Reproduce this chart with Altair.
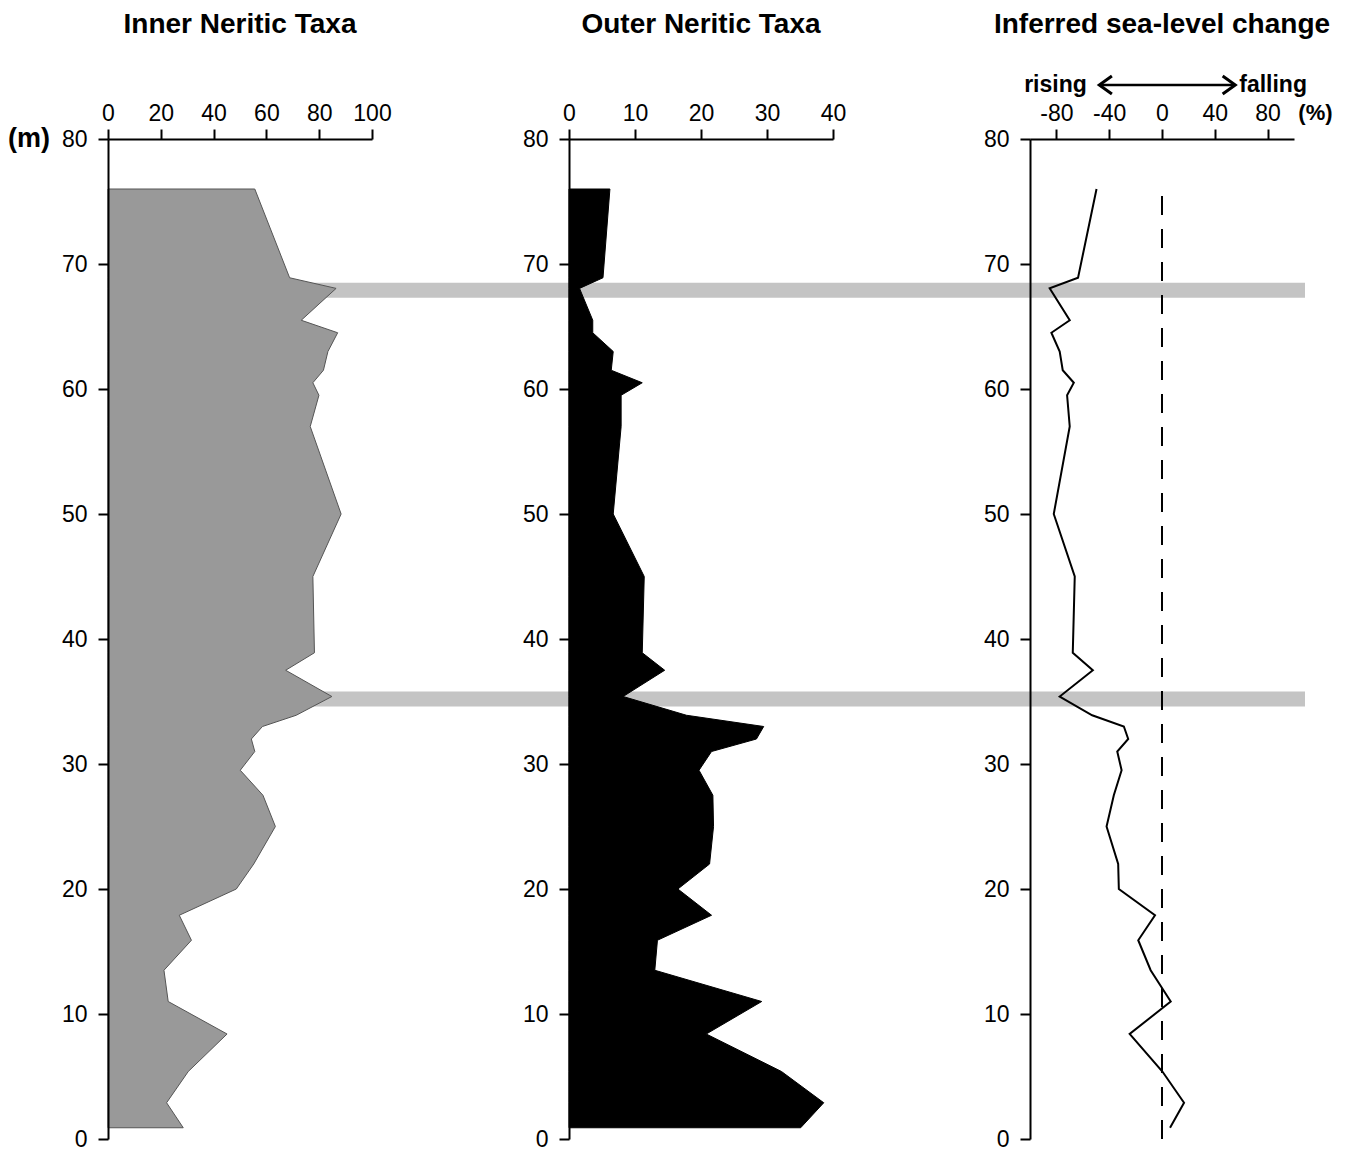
import altair as alt
import pandas as pd

# Sample depths (m) shared by all three profiles
depth = [76.0, 68.9, 68.05, 65.5, 64.5, 63.0, 61.5, 60.5, 59.5, 57.0, 50.0,
         45.0, 38.9, 37.5, 35.4, 33.9, 33.0, 32.0, 31.0, 29.5, 27.5, 25.0,
         22.0, 20.0, 17.9, 15.9, 13.5, 11.0, 8.4, 5.4, 2.9, 0.9]

# Inner neritic taxa (%)
inner = [55.6, 68.8, 86.4, 73.2, 87.0, 83.3, 81.6, 77.6, 79.9, 76.6, 88.3,
         77.6, 78.2, 67.3, 84.8, 71.3, 58.5, 54.3, 55.6, 50.1, 58.7, 63.4,
         55.2, 48.6, 27.0, 31.6, 21.2, 22.8, 45.1, 30.4, 22.2, 28.5]

# Outer neritic taxa (%)
outer = [6.2, 5.15, 1.6, 3.6, 3.6, 6.7, 6.4, 11.1, 7.9, 7.9, 6.7,
         11.4, 11.1, 14.5, 8.2, 17.8, 29.5, 28.4, 21.6, 19.7, 21.8, 21.9,
         21.3, 16.5, 21.6, 13.4, 13.0, 29.2, 20.8, 32.2, 38.6, 35.1]

# Inferred sea-level change (%)
sea = [-49.6, -63.6, -85.1, -69.9, -83.8, -77.5, -75.2, -66.8, -71.9, -69.9, -82.0,
       -66.1, -67.6, -52.4, -77.5, -52.9, -28.9, -25.6, -33.9, -30.6, -36.5, -42.0,
       -33.2, -32.7, -5.3, -18.0, -8.6, 6.6, -24.5, 0.3, 16.7, 6.1]

# Highlighted intervals (m)
band_lo = [67.3, 34.6]
band_hi = [68.5, 35.8]

titles = ["Inner Neritic Taxa", "Outer Neritic Taxa", "Inferred sea-level change"]
x_ticks_inner = [0, 20, 40, 60, 80, 100]
x_ticks_outer = [0, 10, 20, 30, 40]
x_ticks_sea = [-80, -40, 0, 40, 80]
y_ticks = [0, 10, 20, 30, 40, 50, 60, 70, 80]

FONT = "Liberation Sans"
PW, PH, GAP = 264, 1000, 197
BAND_X2 = 3 * PW + 2 * GAP + 11

profile = pd.DataFrame({"depth": depth, "inner": inner, "outer": outer, "sea": sea})
bands = pd.DataFrame({"lo": band_lo, "hi": band_hi})

y_scale = alt.Scale(domain=[0, 80], nice=False, zero=False)

# plain hyphen for negative tick labels
LABEL_EXPR = "'' + datum.value"


def x_axis(values):
    return alt.Axis(orient="top", values=values, title=None, grid=False,
                    domainColor="black", domainWidth=2, tickColor="black",
                    tickWidth=2, tickSize=10, labelFontSize=23, labelFont=FONT,
                    labelColor="black", labelPadding=4, labelFlush=False,
                    labelOverlap=False, labelExpr=LABEL_EXPR, zindex=1)


y_axis = alt.Axis(values=y_ticks, title=None, grid=False, domainColor="black",
                  domainWidth=2, tickColor="black", tickWidth=2, tickSize=10,
                  labelFontSize=23, labelFont=FONT, labelColor="black",
                  labelPadding=11, labelOverlap=False, zindex=1)


def Y(field):
    return alt.Y(field, scale=y_scale, axis=y_axis)


def title_layer(text):
    return alt.Chart(pd.DataFrame({"t": [text]})).mark_text(
        font=FONT, fontSize=28, fontWeight="bold", align="center",
        baseline="alphabetic", color="black"
    ).encode(text="t:N", x=alt.value(PW / 2), y=alt.value(-106))


# Panel 1: inner neritic taxa
xs1 = alt.Scale(domain=[0, 100], nice=False, zero=True)
band = alt.Chart(bands).mark_rect(color="#c4c4c4").encode(
    y=Y("lo:Q"), y2="hi:Q", x=alt.value(0), x2=alt.value(BAND_X2)
)
inner_area = alt.Chart(profile).mark_area(
    orient="horizontal", color="#999999", stroke="#555555", strokeWidth=1
).encode(x=alt.X("inner:Q", scale=xs1, axis=x_axis(x_ticks_inner)), y=Y("depth:Q"))
unit_label = alt.Chart(pd.DataFrame({"t": ["(m)"]})).mark_text(
    font=FONT, fontSize=27, fontWeight="bold", align="left", baseline="alphabetic"
).encode(text="t:N", x=alt.value(-100), y=alt.value(8))
p1 = alt.layer(band, inner_area, title_layer(titles[0]), unit_label).properties(
    width=PW, height=PH)

# Panel 2: outer neritic taxa
xs2 = alt.Scale(domain=[0, 40], nice=False, zero=True)
outer_area = alt.Chart(profile).mark_area(
    orient="horizontal", color="black", stroke="black", strokeWidth=1
).encode(x=alt.X("outer:Q", scale=xs2, axis=x_axis(x_ticks_outer)), y=Y("depth:Q"))
p2 = alt.layer(outer_area, title_layer(titles[1])).properties(width=PW, height=PH)

# Panel 3: inferred sea-level change
xs3 = alt.Scale(domain=[-100, 100], nice=False, zero=False)


def X3(field):
    return alt.X(field, scale=xs3, axis=x_axis(x_ticks_sea))


sea_line = alt.Chart(profile).mark_line(color="black", strokeWidth=2).encode(
    x=X3("sea:Q"), y=Y("depth:Q"), order="depth:Q")
zero_line = alt.Chart(pd.DataFrame({"x": [0], "y0": [0], "y1": [76.3]})).mark_rule(
    color="black", strokeWidth=2, strokeDash=[19, 14]
).encode(x=X3("x:Q"), y=Y("y0:Q"), y2="y1:Q")
arrow = alt.Chart(pd.DataFrame({"a": [-46], "b": [54]})).mark_rule(
    color="black", strokeWidth=2.5).encode(x=X3("a:Q"), x2="b:Q", y=alt.value(-54))
heads = alt.Chart(pd.DataFrame({
    "x": [-47.5, 55.5],
    "shape": ["M1.4,-1L0,0L1.4,1", "M-1.4,-1L0,0L-1.4,1"],
})).mark_point(filled=False, size=324, strokeWidth=3, color="black", opacity=1,
               strokeJoin="miter").encode(
    x=X3("x:Q"), y=alt.value(-54), shape=alt.Shape("shape:N", scale=None))
rising = alt.Chart(pd.DataFrame({"x": [-57], "t": ["rising"]})).mark_text(
    font=FONT, fontSize=23, fontWeight="bold", align="right", baseline="alphabetic"
).encode(x=X3("x:Q"), y=alt.value(-47), text="t:N")
falling = alt.Chart(pd.DataFrame({"x": [58.5], "t": ["falling"]})).mark_text(
    font=FONT, fontSize=23, fontWeight="bold", align="left", baseline="alphabetic"
).encode(x=X3("x:Q"), y=alt.value(-47), text="t:N")
pct = alt.Chart(pd.DataFrame({"x": [103.3], "t": ["(%)"]})).mark_text(
    font=FONT, fontSize=22, fontWeight="bold", align="left", baseline="alphabetic"
).encode(x=X3("x:Q"), y=alt.value(-19), text="t:N")
p3 = alt.layer(zero_line, sea_line, arrow, heads, rising, falling, pct,
               title_layer(titles[2])).properties(width=PW, height=PH)

chart = alt.hconcat(p1, p2, p3, spacing=GAP, bounds="flush").configure_view(
    stroke=None
).properties(
    padding={"left": 8, "top": 11, "right": 5, "bottom": 5},
    background="white",
)

chart.save("out.html", embed_options={"renderer": "svg", "actions": False})
